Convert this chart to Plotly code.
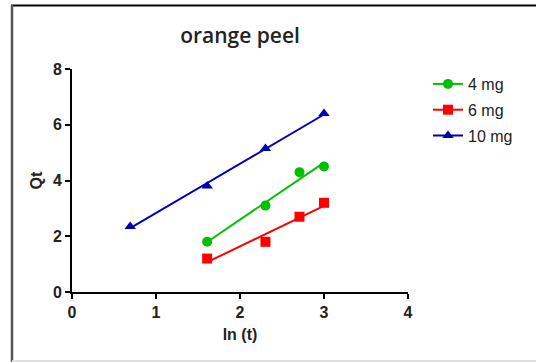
import numpy as np
import plotly.graph_objects as go

# Data
series_names = ["4 mg", "6 mg", "10 mg"]
x_4mg = [1.609, 2.303, 2.708, 3.0]
y_4mg = [1.8, 3.1, 4.3, 4.5]
x_6mg = [1.609, 2.303, 2.708, 3.0]
y_6mg = [1.2, 1.8, 2.7, 3.2]
x_10mg = [0.693, 1.609, 2.303, 3.0]
y_10mg = [2.35, 3.8, 5.15, 6.4]

colors = ["#00c000", "#ff0000", "#0000b8"]
symbols = ["circle", "square", "triangle-up"]

W, H = 536, 362
L, R, T, B = 72, 128, 69, 70
pw, ph = W - L - R, H - T - B

fig = go.Figure()
data = [(x_4mg, y_4mg), (x_6mg, y_6mg), (x_10mg, y_10mg)]
for i, (name, (xs, ys), c, s) in enumerate(zip(series_names, data, colors, symbols)):
    xa, ya = np.array(xs), np.array(ys)
    k, b0 = np.polyfit(xa, ya, 1)
    xf = [xa.min(), xa.max()]
    yf = [k * v + b0 for v in xf]
    fig.add_trace(go.Scatter(x=xf, y=yf, mode="lines", line=dict(color=c, width=2),
                             showlegend=False, hoverinfo="skip"))
    fig.add_trace(go.Scatter(x=xs, y=ys, mode="markers",
                             marker=dict(color=c, symbol=s, size=10),
                             showlegend=False))
    fig.add_trace(go.Scatter(x=[None], y=[None], mode="lines+markers", name=name,
                             legendgroup=f"g{i}",
                             line=dict(color=c, width=2),
                             marker=dict(color=c, symbol=s, size=10)))

axis_common = dict(showline=True, linecolor="black", linewidth=2, ticks="outside",
                   ticklen=5, tickwidth=2, tickcolor="black", showgrid=False,
                   zeroline=False,
                   tickfont=dict(family="Liberation Sans", size=16, color="#222222", weight="bold"))

fig.update_layout(
    width=W, height=H,
    margin=dict(l=L, r=R, t=T, b=B),
    paper_bgcolor="white", plot_bgcolor="white",
    title=dict(text="orange peel", x=(L + pw / 2) / W, xanchor="center",
               y=1 - 36 / H, yanchor="middle",
               font=dict(family="Open Sans", size=21, color="#222222", weight=600)),
    xaxis=dict(range=[0, 4], tickvals=[0, 1, 2, 3, 4],
               title=dict(text="ln (t)", standoff=9,
                          font=dict(family="Liberation Sans", size=16, color="#222222", weight="bold")),
               **axis_common),
    yaxis=dict(range=[0, 8], tickvals=[0, 2, 4, 6, 8],
               title=dict(text="Qt", standoff=6,
                          font=dict(family="Liberation Sans", size=16, color="#222222", weight="bold")),
               **axis_common),
    legend=dict(x=(428 - L) / pw, y=(292 - 67) / ph, xanchor="left", yanchor="top",
                font=dict(family="Liberation Sans", size=16, color="#222222"),
                bgcolor="rgba(0,0,0,0)", tracegroupgap=2, itemwidth=30),
    showlegend=True,
)

def px_to_paper_x(px):
    return (px - L) / pw

def py_to_paper_y(py):
    return (H - B - py) / ph

fig.add_shape(type="line", xref="paper", yref="paper",
              x0=px_to_paper_x(11), x1=px_to_paper_x(536), y0=py_to_paper_y(5.5), y1=py_to_paper_y(5.5),
              line=dict(color="black", width=2))
fig.add_shape(type="line", xref="paper", yref="paper",
              x0=px_to_paper_x(12), x1=px_to_paper_x(12), y0=py_to_paper_y(5), y1=py_to_paper_y(362),
              line=dict(color="#555555", width=2.5))
fig.add_shape(type="line", xref="paper", yref="paper",
              x0=px_to_paper_x(12), x1=px_to_paper_x(536), y0=py_to_paper_y(361), y1=py_to_paper_y(361),
              line=dict(color="#e0e0e0", width=2))

fig.write_html("out.html")
